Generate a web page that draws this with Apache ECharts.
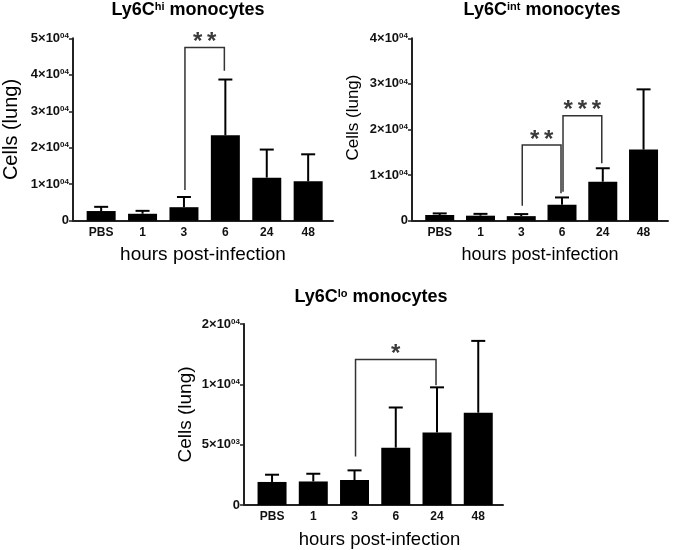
<!DOCTYPE html>
<html>
<head>
<meta charset="utf-8">
<script src="https://cdn.jsdelivr.net/npm/echarts@6/dist/echarts.min.js"></script>
<style>html,body{margin:0;padding:0;background:#fff;}#c{width:675px;height:550px;}</style>
</head>
<body>
<div id="c"></div>
<script>
// ---- data ----
const categories = ['PBS', '1', '3', '6', '24', '48'];

const hiMean = [2650, 1900, 3700, 23400, 11800, 10800];
const hiUpper = [3800, 2700, 6500, 38700, 19500, 18200];
const intMean = [1250, 1100, 1000, 3500, 8550, 15600];
const intUpper = [1600, 1500, 1450, 5100, 11500, 28800];
const loMean = [1910, 1950, 2070, 4750, 6010, 7650];
const loUpper = [2510, 2590, 2870, 8080, 9750, 13600];

// brackets: [fromIndex, toIndex, topValue, leftLegEnd, rightLegEnd]
const hiBrackets = [[2, 3, 47500, 8400, 41100]];
const hiStars = ['**'];
const intBrackets = [[2, 3, 16600, 3290, 6010], [3, 4, 23000, 6360, 12590]];
const intStars = ['**', '***'];
const loBrackets = [[2, 4, 12050, 4010, 9930]];
const loStars = ['*'];

// y tick labels: [mantissa, exponent]
const hiTicks = [['0', ''], ['1×10', '04'], ['2×10', '04'], ['3×10', '04'], ['4×10', '04'], ['5×10', '04']];
const intTicks = [['0', ''], ['1×10', '04'], ['2×10', '04'], ['3×10', '04'], ['4×10', '04']];
const loTicks = [['0', ''], ['5×10', '03'], ['1×10', '04'], ['2×10', '04']];

const titles = [['Ly6C', 'hi', ' monocytes'], ['Ly6C', 'int', ' monocytes'], ['Ly6C', 'lo', ' monocytes']];
const yName = 'Cells (lung)';
const xName = 'hours post-infection';

// ---- chart ----
const FONT = 'Liberation Sans, Arial, sans-serif';
const chart = echarts.init(document.getElementById('c'), null, {renderer: 'canvas'});

function tickFormatter(ticks, step) {
  return function (v) {
    const t = ticks[Math.round(v / step)];
    if (!t) return '';
    return t[1] ? '{b|' + t[0] + '}{s|' + t[1] + '}' : '{b|' + t[0] + '}';
  };
}
const tickRich = {
  b: {fontFamily: FONT, fontWeight: 'bold', fontSize: 13, color: '#111'},
  s: {fontFamily: FONT, fontWeight: 'bold', fontSize: 8, color: '#111', verticalAlign: 'top', lineHeight: 8}
};

function makeTitle(t, cx, top) {
  return {
    text: '{a|' + t[0] + '}{s|' + t[1] + '}{a|' + t[2] + '}',
    left: cx, top: top, textAlign: 'center', padding: 0,
    textStyle: {
      rich: {
        a: {fontFamily: FONT, fontWeight: 'bold', fontSize: 18, color: '#000'},
        s: {fontFamily: FONT, fontWeight: 'bold', fontSize: 11, color: '#000', verticalAlign: 'top', lineHeight: 11}
      }
    }
  };
}

function xAxisDef(gi, nameSize, pad) {
  return {
    gridIndex: gi, type: 'value', min: -0.68, max: 5.6,
    axisLine: {onZero: false, lineStyle: {color: '#222', width: 2}},
    axisTick: {show: false}, splitLine: {show: false},
    axisLabel: {
      customValues: [0, 1, 2, 3, 4, 5], margin: 6,
      formatter: function (v) { return categories[Math.round(v)]; },
      fontFamily: FONT, fontWeight: 'bold', fontSize: 12, color: '#111'
    },
    name: xName, nameLocation: 'middle', nameGap: 25,
    nameTextStyle: {fontFamily: FONT, fontSize: nameSize, color: '#000', padding: pad}
  };
}
function yAxisDef(gi, max, step, ticks, nameSize, gap, pad) {
  return {
    gridIndex: gi, type: 'value', min: 0, max: max, interval: step,
    axisLine: {show: true, onZero: false, lineStyle: {color: '#222', width: 2}},
    axisTick: {show: true, length: 4, lineStyle: {color: '#222', width: 1.5}},
    splitLine: {show: false},
    axisLabel: {margin: 4, formatter: tickFormatter(ticks, step), rich: tickRich},
    name: yName, nameLocation: 'middle', nameRotate: 90, nameGap: gap,
    nameTextStyle: {fontFamily: FONT, fontSize: nameSize, color: '#000', padding: pad}
  };
}

function barSeries(i, vals) {
  return {
    type: 'bar', xAxisIndex: i, yAxisIndex: i, barWidth: 29,
    itemStyle: {color: '#000'}, z: 2,
    data: vals.map(function (v, k) { return [k, v]; })
  };
}
function errSeries(i, means, uppers) {
  return {
    type: 'custom', xAxisIndex: i, yAxisIndex: i, z: 3, clip: false,
    data: means.map(function (m, k) { return [k, m, uppers[k]]; }),
    encode: {x: 0, y: [1, 2]},
    renderItem: function (params, api) {
      const x = api.value(0);
      const p0 = api.coord([x, api.value(1)]);
      const p1 = api.coord([x, api.value(2)]);
      const hw = 7;
      return {type: 'group', children: [
        {type: 'line', shape: {x1: p0[0], y1: p0[1], x2: p1[0], y2: p1[1]}, style: {stroke: '#000', lineWidth: 2}},
        {type: 'line', shape: {x1: p1[0] - hw, y1: p1[1], x2: p1[0] + hw, y2: p1[1]}, style: {stroke: '#000', lineWidth: 2}}
      ]};
    }
  };
}
function bracketSeries(i, brs, stars) {
  return {
    type: 'custom', xAxisIndex: i, yAxisIndex: i, z: 4, clip: false,
    data: brs, encode: {x: [0, 1], y: [2, 3, 4]},
    renderItem: function (params, api) {
      const a = api.coord([api.value(0), api.value(2)]);
      const b = api.coord([api.value(1), api.value(2)]);
      const la = api.coord([api.value(0), api.value(3)]);
      const rb = api.coord([api.value(1), api.value(4)]);
      const lx = a[0] + 1, rx = b[0] - 1;
      return {type: 'group', children: [
        {type: 'polyline', shape: {points: [[lx, la[1]], [lx, a[1]], [rx, a[1]], [rx, rb[1]]]},
          style: {stroke: '#333', lineWidth: 1.5, fill: null}},
        {type: 'text', style: {x: (lx + rx) / 2, y: a[1] - 5, text: stars[params.dataIndex].split('').join('\u2009'),
          fontFamily: FONT, fontWeight: 'bold', fontSize: 24, fill: '#3a3a3a', align: 'center', verticalAlign: 'middle'}}
      ]};
    }
  };
}

const option = {
  backgroundColor: '#fff',
  animation: false,
  title: [makeTitle(titles[0], 188, 1), makeTitle(titles[1], 542, 1), makeTitle(titles[2], 371, 288)],
  grid: [
    {left: 71, top: 38.3, width: 262, height: 182.4},
    {left: 412, top: 38.3, width: 256, height: 182.4},
    {left: 244, top: 324, width: 259, height: 183.3}
  ],
  xAxis: [xAxisDef(0, 19, 0), xAxisDef(1, 18, 0), xAxisDef(2, 18.5, [0, 0, 0, 12])],
  yAxis: [
    yAxisDef(0, 50000, 10000, hiTicks, 20, 52, 0),
    yAxisDef(1, 40000, 10000, intTicks, 17, 50, [0, 0, 0, 24]),
    yAxisDef(2, 15000, 5000, loTicks, 19, 49, 0)
  ],
  series: [
    barSeries(0, hiMean), errSeries(0, hiMean, hiUpper), bracketSeries(0, hiBrackets, hiStars),
    barSeries(1, intMean), errSeries(1, intMean, intUpper), bracketSeries(1, intBrackets, intStars),
    barSeries(2, loMean), errSeries(2, loMean, loUpper), bracketSeries(2, loBrackets, loStars)
  ]
};
chart.setOption(option);
</script>
</body>
</html>
